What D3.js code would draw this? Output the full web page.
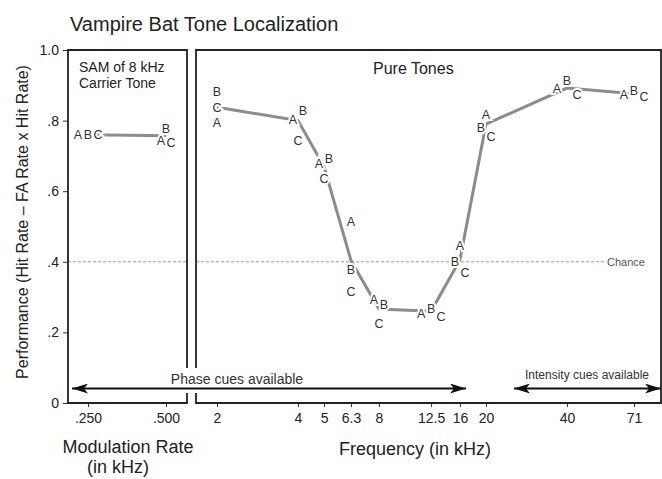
<!DOCTYPE html>
<html>
<head>
<meta charset="utf-8">
<script src="https://cdn.jsdelivr.net/npm/d3@7"></script>
<style>
  body { margin: 0; background: #fff; }
  text { font-family: "Liberation Sans", Arial, sans-serif; fill: #222; }
</style>
</head>
<body>
<div id="chart"></div>
<script>
// modulation rate panel (SAM of 8 kHz carrier)
const ampRates = [0.25, 0.5];
const ampLabels = [".250", ".500"];
const ampMean = [0.76, 0.757];
const ampA = [0.76, 0.745];
const ampB = [0.76, 0.778];
const ampC = [0.76, 0.737];

// pure tone panel
const freqs = [2, 4, 5, 6.3, 8, 12.5, 16, 20, 40, 71];
const freqLabels = ["2", "4", "5", "6.3", "8", "12.5", "16", "20", "40", "71"];
const freqMean = [0.838, 0.80, 0.67, 0.403, 0.266, 0.26, 0.405, 0.79, 0.892, 0.876];
const freqA = [0.795, 0.804, 0.679, 0.514, 0.292, 0.254, 0.446, 0.816, 0.891, 0.874];
const freqB = [0.882, 0.829, 0.693, 0.379, 0.280, 0.268, 0.400, 0.780, 0.915, 0.885];
const freqC = [0.838, 0.745, 0.637, 0.317, 0.226, 0.245, 0.369, 0.756, 0.874, 0.868];

const yTicks = [0, 0.2, 0.4, 0.6, 0.8, 1.0];
const yTickLabels = ["0", ".2", ".4", ".6", ".8", "1.0"];
const chance = 0.4;

const width = 662;
const height = 479;

// panel boxes
const leftPanel = {x0: 68, x1: 187};
const rightPanel = {x0: 196, x1: 661};
const plotTop = 50, plotBottom = 403;

const svg = d3.select("#chart").append("svg")
    .attr("width", width)
    .attr("height", height);

const y = d3.scaleLinear().domain([0, 1]).range([plotBottom, plotTop]);
const xAmp = d3.scaleLog().base(2).domain([0.25, 0.5]).range([88, 166]);
const xFreq = d3.scaleLog().base(2).domain([2, 71]).range([217, 634]);

// title
svg.append("text")
    .attr("x", 70).attr("y", 31)
    .style("font-size", "20px")
    .text("Vampire Bat Tone Localization");

// y axis
const yAxis = svg.append("g")
    .attr("transform", `translate(${leftPanel.x0},0)`)
    .call(d3.axisLeft(y).tickValues(yTicks)
        .tickFormat((d, i) => yTickLabels[i]).tickSize(5).tickPadding(4));
yAxis.select(".domain").remove();
yAxis.selectAll("line").attr("stroke", "#333");
yAxis.selectAll("text").style("font-size", "14px").attr("fill", "#333");

svg.append("text")
    .attr("transform", "translate(22,222) rotate(-90)")
    .attr("text-anchor", "middle")
    .attr("dy", "0.35em")
    .style("font-size", "16px")
    .text("Performance (Hit Rate \u2013 FA Rate x Hit Rate)");

// x axes
function bottomAxis(scale, vals, labels) {
    const g = svg.append("g")
        .attr("transform", `translate(0,${plotBottom})`)
        .call(d3.axisBottom(scale).tickValues(vals)
            .tickFormat((d, i) => labels[i]).tickSize(4).tickPadding(6));
    g.select(".domain").remove();
    g.selectAll("line").attr("stroke", "#333");
    g.selectAll("text").style("font-size", "14px").attr("fill", "#333");
}
bottomAxis(xAmp, ampRates, ampLabels);
bottomAxis(xFreq, freqs, freqLabels);

svg.append("text")
    .attr("x", 128).attr("y", 453)
    .attr("text-anchor", "middle")
    .style("font-size", "18px")
    .text("Modulation Rate");
svg.append("text")
    .attr("x", 118).attr("y", 473)
    .attr("text-anchor", "middle")
    .style("font-size", "18px")
    .text("(in kHz)");
svg.append("text")
    .attr("x", 415).attr("y", 455)
    .attr("text-anchor", "middle")
    .style("font-size", "18px")
    .text("Frequency (in kHz)");

// chance line
svg.append("line")
    .attr("x1", leftPanel.x0).attr("x2", leftPanel.x1)
    .attr("y1", y(chance)).attr("y2", y(chance))
    .attr("stroke", "#999").attr("stroke-dasharray", "3,2");
svg.append("line")
    .attr("x1", rightPanel.x0).attr("x2", 604)
    .attr("y1", y(chance)).attr("y2", y(chance))
    .attr("stroke", "#999").attr("stroke-dasharray", "3,2");
svg.append("text")
    .attr("x", 607).attr("y", y(chance))
    .attr("dy", "0.35em")
    .style("font-size", "11px")
    .style("fill", "#555")
    .text("Chance");

// panel borders, with a break where the cue arrow passes
const gapTop = 368, gapBottom = 393;
svg.append("path")
    .attr("d", `M${leftPanel.x1},${gapTop}V${plotTop}H${leftPanel.x0}V${plotBottom}H${leftPanel.x1}V${gapBottom}`)
    .attr("fill", "none").attr("stroke", "#222").attr("stroke-width", 1.8);
svg.append("path")
    .attr("d", `M${rightPanel.x0},${gapTop}V${plotTop}H${rightPanel.x1}V${plotBottom}H${rightPanel.x0}V${gapBottom}`)
    .attr("fill", "none").attr("stroke", "#222").attr("stroke-width", 1.8);

svg.append("text")
    .attr("x", 79).attr("y", 72)
    .style("font-size", "14px")
    .text("SAM of 8 kHz");
svg.append("text")
    .attr("x", 79).attr("y", 88)
    .style("font-size", "14px")
    .text("Carrier Tone");
svg.append("text")
    .attr("x", 373).attr("y", 74)
    .style("font-size", "16px")
    .text("Pure Tones");

// cue arrows
const defs = svg.append("defs");
defs.append("marker")
    .attr("id", "head")
    .attr("markerUnits", "userSpaceOnUse")
    .attr("viewBox", "0 0 16 10")
    .attr("refX", 16).attr("refY", 5)
    .attr("markerWidth", 16).attr("markerHeight", 10)
    .attr("orient", "auto-start-reverse")
    .append("path")
    .attr("d", "M0,0L16,5L0,10L4,5Z")
    .attr("fill", "#111");

const arrowY = 388.5;
svg.append("line")
    .attr("x1", 72).attr("x2", 466)
    .attr("y1", arrowY).attr("y2", arrowY)
    .attr("stroke", "#111").attr("stroke-width", 1.8)
    .attr("marker-start", "url(#head)").attr("marker-end", "url(#head)");
svg.append("line")
    .attr("x1", 514).attr("x2", 661)
    .attr("y1", arrowY).attr("y2", arrowY)
    .attr("stroke", "#111").attr("stroke-width", 1.8)
    .attr("marker-start", "url(#head)").attr("marker-end", "url(#head)");
svg.append("text")
    .attr("x", 237).attr("y", 384)
    .attr("text-anchor", "middle")
    .style("font-size", "14px")
    .style("fill", "#333")
    .text("Phase cues available");
svg.append("text")
    .attr("x", 587).attr("y", 379)
    .attr("text-anchor", "middle")
    .style("font-size", "12px")
    .style("fill", "#333")
    .text("Intensity cues available");

// mean lines
const line = d3.line().x(d => d[0]).y(d => y(d[1]));
svg.append("path")
    .attr("d", line(ampRates.map((r, i) => [xAmp(r), ampMean[i]])))
    .attr("fill", "none").attr("stroke", "#8c8c8c").attr("stroke-width", 3);
svg.append("path")
    .attr("d", line(freqs.map((f, i) => [xFreq(f), freqMean[i]])))
    .attr("fill", "none").attr("stroke", "#8c8c8c").attr("stroke-width", 3);

// individual bats: letters at their values, spread sideways when they collide
function letters(xs, scale, a, b, c) {
    const out = [];
    xs.forEach((v, i) => {
        const pts = [
            {k: "A", v: a[i]}, {k: "B", v: b[i]}, {k: "C", v: c[i]}
        ].map(p => ({...p, py: y(p.v)}));
        const sorted = pts.slice().sort((p, q) => p.py - q.py);
        const groups = [];
        sorted.forEach(p => {
            const g = groups[groups.length - 1];
            if (g && p.py - g[g.length - 1].py < 11.5) g.push(p);
            else groups.push([p]);
        });
        groups.forEach(g => {
            g.sort((p, q) => p.k.localeCompare(q.k));
            g.forEach((p, j) => {
                out.push({k: p.k, x: scale(v) + (j - (g.length - 1) / 2) * 10, y: p.py});
            });
        });
    });
    return out;
}

const allLetters = letters(ampRates, xAmp, ampA, ampB, ampC)
    .concat(letters(freqs, xFreq, freqA, freqB, freqC));

svg.append("g").selectAll("text")
    .data(allLetters)
    .join("text")
        .attr("x", d => d.x)
        .attr("y", d => d.y)
        .attr("dy", "0.36em")
        .attr("text-anchor", "middle")
        .style("font-size", "12.5px")
        .style("fill", "#333")
        .style("stroke", "#fff")
        .style("stroke-width", 4)
        .style("paint-order", "stroke")
        .text(d => d.k);
</script>
</body>
</html>
